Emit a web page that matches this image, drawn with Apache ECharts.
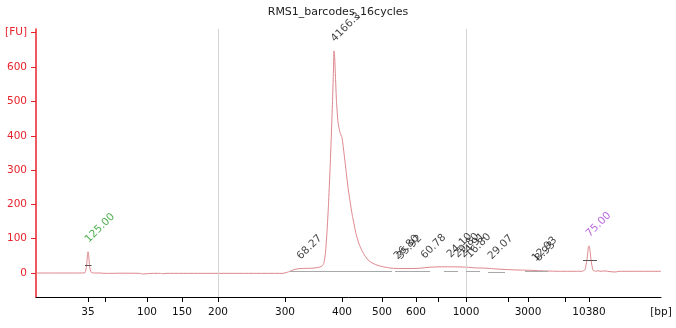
<!DOCTYPE html>
<html>
<head>
<meta charset="utf-8">
<script src="https://cdn.jsdelivr.net/npm/echarts@6/dist/echarts.min.js"></script>
<style>
  html, body { margin: 0; padding: 0; background: #fff; }
  #chart { width: 676px; height: 328px; }
</style>
</head>
<body>
<div id="chart"></div>
<script>
// Electropherogram: fluorescence [FU] against migration time (s);
// the x axis is labelled with fragment sizes from the ladder calibration.
const title = 'RMS1_barcodes_16cycles';

// Ladder calibration: fragment size (bp) -> migration time (s)
const ladderBp   = [35, 50, 100, 150, 200, 300, 400, 500, 600, 700, 1000, 2000, 3000, 7000, 10380];
const ladderTime = [46.24, 48.28, 53.32, 57.52, 61.84, 69.88, 76.72, 81.52, 85.6, 88.24, 91.6, 96.64, 99.04, 103.48, 106.36];
const labelledBp = [35, 100, 150, 200, 300, 400, 500, 600, 1000, 3000, 10380];
const gridBp = [200, 1000];
const timeRange = [40, 115];

// Fluorescence ticks
const fuTicks = [0, 100, 200, 300, 400, 500, 600];
const fuRange = [-70, 712];
const fuTop = 703;

// Sample trace: [time (s), fluorescence (FU)]
const trace = [
  [40.0, 0], [45.28, 0], [45.88, 1], [46.06, 20], [46.18, 52], [46.24, 62], [46.32, 52],
  [46.44, 18], [46.62, 2], [46.96, 0], [47.68, 0], [48.28, -1], [49.12, -1], [50.08, -0.5],
  [52.48, -1], [52.84, -3], [53.32, -2], [53.92, -1], [54.88, -1], [55.24, -2], [55.72, -1],
  [59.68, -1], [64.48, -1], [69.64, -1], [70.12, 2], [70.48, 5], [70.96, 10], [71.68, 13],
  [73.12, 14], [73.84, 16], [74.32, 20], [74.56, 30], [74.74, 60], [74.92, 120], [75.10, 200],
  [75.28, 300], [75.44, 400], [75.58, 500], [75.68, 580], [75.76, 648], [75.84, 630],
  [75.94, 570], [76.06, 500], [76.24, 440], [76.48, 410], [76.72, 395], [76.96, 350],
  [77.20, 300], [77.44, 250], [77.68, 210], [77.98, 165], [78.40, 115], [78.76, 85],
  [79.12, 65], [79.48, 50], [79.84, 38], [80.44, 28], [81.04, 22], [81.88, 17], [82.72, 14],
  [83.68, 13], [84.88, 13], [86.08, 14], [87.28, 17], [88.48, 18], [90.28, 18], [91.72, 17],
  [92.68, 15], [94.12, 14], [95.68, 11], [97.48, 9], [99.28, 8], [101.08, 6], [102.88, 5],
  [104.68, 5], [105.52, 5], [105.88, 10], [106.12, 40], [106.28, 75], [106.36, 79],
  [106.46, 70], [106.62, 35], [106.84, 8], [107.20, 5], [107.44, 7], [107.68, 5],
  [108.28, 6], [108.88, 4], [109.48, 3], [110.08, 5], [112.48, 5], [115.0, 5]
];

// Called peaks: time, fluorescence at the peak, annotation and its colour
const peakTime  = [46.24, 71.68, 75.76, 83.32, 83.68, 86.56, 89.68, 90.52, 91.24, 91.96, 94.6, 99.88, 100.24, 106.36];
const peakFU    = [62, 13, 648, 13, 13, 15, 18, 18, 18, 17, 13, 7, 7, 79];
const peakText  = ['125.00', '68.27', '4166.3', '26.80', '35.92', '60.78', '24.10', '29.80', '24.91', '16.80', '29.07', '12.93', '8.93', '75.00'];
const peakColor = ['#1f9a1f', '#111', '#111', '#111', '#111', '#111', '#111', '#111', '#111', '#111', '#111', '#111', '#111', '#a23ed6'];

// Integration baselines under peaks: [start time, end time, FU]
const baselines = [
  [70.48, 82.72, 5], [83.08, 87.28, 4], [88.96, 90.64, 4],
  [91.6, 93.28, 4], [94.24, 96.28, 3], [98.68, 101.44, 4]
];
// Peak width markers on the ladder markers: [start time, end time, FU]
const markerWidths = [[45.88, 46.66, 23], [105.64, 107.32, 38]];

const FONT = 'DejaVu Sans';
const RED = '#e8222a';

function bpLabel(t) {
  if (Math.abs(t - timeRange[1]) < 1e-6) return '[bp]';
  const i = ladderTime.findIndex(v => Math.abs(v - t) < 1e-6);
  return i >= 0 ? String(ladderBp[i]) : '';
}
const timeOf = bp => ladderTime[ladderBp.indexOf(bp)];

const chart = echarts.init(document.getElementById('chart'), null, { renderer: 'canvas' });

chart.setOption({
  animation: false,
  backgroundColor: '#fff',
  title: {
    text: title,
    left: 'center',
    top: 2,
    textStyle: { fontFamily: FONT, fontSize: 11, fontWeight: 'normal', color: '#222' }
  },
  grid: { left: 36, right: 15, top: 29, bottom: 31 },
  xAxis: {
    type: 'value',
    min: timeRange[0],
    max: timeRange[1],
    axisLine: { show: true, onZero: false, lineStyle: { color: '#000', width: 1 } },
    axisTick: { show: true, length: 5, lineStyle: { color: '#000' }, customValues: ladderTime },
    axisLabel: {
      customValues: labelledBp.map(timeOf).concat([timeRange[1]]),
      formatter: bpLabel,
      margin: 10,
      color: '#111',
      fontFamily: FONT,
      fontSize: 10.5
    },
    splitLine: { show: false }
  },
  yAxis: {
    type: 'value',
    min: fuRange[0],
    max: fuRange[1],
    axisLine: { show: true, lineStyle: { color: RED, width: 1.5 } },
    axisTick: { show: true, length: 5, lineStyle: { color: RED }, customValues: fuTicks.concat([fuTop]) },
    axisLabel: {
      customValues: fuTicks.concat([fuTop]),
      formatter: v => (v === fuTop ? '[FU]' : String(v)),
      margin: 9,
      color: RED,
      fontFamily: FONT,
      fontSize: 10.5
    },
    splitLine: { show: false }
  },
  series: [
    {
      name: 'trace',
      type: 'line',
      data: trace,
      showSymbol: false,
      smooth: 0.15,
      lineStyle: { color: '#de868c', width: 1 },
      silent: true,
      z: 3,
      markLine: {
        silent: true,
        symbol: ['none', 'none'],
        label: { show: false },
        lineStyle: { color: '#d4d4d4', width: 1, type: 'solid' },
        data: gridBp.map(bp => ({ xAxis: timeOf(bp) }))
      }
    },
    {
      name: 'baselines',
      type: 'line',
      data: [],
      silent: true,
      z: 2,
      markLine: {
        silent: true,
        symbol: ['none', 'none'],
        label: { show: false },
        lineStyle: { color: '#a8a8a8', width: 1, type: 'solid' },
        data: baselines.map(b => [{ coord: [b[0], b[2]] }, { coord: [b[1], b[2]] }])
      }
    },
    {
      name: 'markerWidths',
      type: 'line',
      data: [],
      silent: true,
      z: 4,
      markLine: {
        silent: true,
        symbol: ['none', 'none'],
        label: { show: false },
        lineStyle: { color: '#555', width: 1, type: 'solid' },
        data: markerWidths.map(b => [{ coord: [b[0], b[2]] }, { coord: [b[1], b[2]] }])
      }
    },
    {
      name: 'peaks',
      type: 'scatter',
      symbolSize: 0,
      silent: true,
      z: 5,
      data: peakTime.map((t, i) => ({
        value: [t, peakFU[i]],
        label: { color: peakColor[i] }
      })),
      label: {
        show: true,
        position: 'top',
        distance: 4,
        offset: [4, 0],
        rotate: 45,
        align: 'left',
        verticalAlign: 'bottom',
        fontFamily: FONT,
        fontSize: 10.5,
        formatter: p => peakText[p.dataIndex]
      }
    }
  ]
});
</script>
</body>
</html>
